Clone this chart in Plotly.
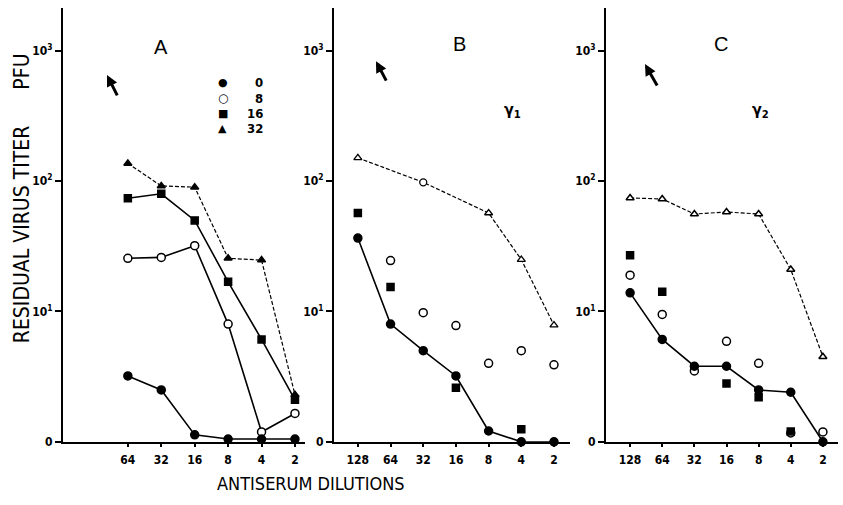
import math
import plotly.graph_objects as go

W, H = 843, 505

# ---------------- data ----------------
dil_A = [64, 32, 16, 8, 4, 2]
A_0 = [3.2, 2.5, 1.13, 1.05, 1.05, 1.05]
A_8 = [25.6, 26, 32, 8, 1.19, 1.65]
A_16 = [74, 80, 50, 16.9, 6.1, 2.1]
A_32 = [137, 92, 90, 25.6, 24.8, 2.3]

dil_BC = [128, 64, 32, 16, 8, 4, 2]
B_0 = [36.6, 8.0, 5.0, 3.2, 1.21, 1.0, 1.0]
B_8 = [None, 24.6, 9.8, 7.8, 4.0, 5.0, 3.9]
B_16 = [57, 15.4, None, 2.6, None, 1.25, None]
B_32 = [151, None, 98, None, 57, 25, 7.85]

C_0 = [13.9, 6.1, 3.8, 3.8, 2.5, 2.4, 1.0]
C_8 = [19, 9.5, 3.5, 5.9, 4.0, 1.17, 1.19]
C_16 = [27, 14.2, None, 2.8, 2.2, 1.2, None]
C_32 = [74.4, 73, 56, 58, 56, 21, 4.5]

legend_labels = ["0", "8", "16", "32"]
legend_glyphs = ["●", "○", "■", "▲"]
y_tickvals = [1, 10, 100, 1000]
y_ticktext = ["0", "10<sup>1</sup>", "10<sup>2</sup>", "10<sup>3</sup>"]

# ---------------- style ----------------
COND = "DejaVu Sans Condensed, Liberation Sans Narrow, sans-serif"
SANS = "Liberation Sans, Arial, sans-serif"
TICKFONT = dict(family=COND, size=12, color="black", weight="bold")


def px_x(p):
    return p / W


def px_y(p):
    return 1 - p / H


fig = go.Figure()


def line_trace(x, y, xa, ya, symbol, dash="solid", fill=True, size=8, lw=1.6):
    return go.Scatter(
        x=x, y=y, xaxis=xa, yaxis=ya, mode="lines+markers",
        connectgaps=True, cliponaxis=False, showlegend=False,
        line=dict(color="black", width=lw, dash=dash),
        marker=dict(symbol=symbol, size=size, color="black" if fill else "white",
                    line=dict(color="black", width=1.5)),
    )


def pt_trace(x, y, xa, ya, symbol, fill=True, size=8):
    return go.Scatter(
        x=x, y=y, xaxis=xa, yaxis=ya, mode="markers", cliponaxis=False,
        showlegend=False,
        marker=dict(symbol=symbol, size=size, color="black" if fill else "white",
                    line=dict(color="black", width=1.5)),
    )


DASH = "4px,2px"

# Panel A
fig.add_trace(line_trace(dil_A, A_32, "x", "y", "triangle-up", dash=DASH, size=7, lw=1.2))
fig.add_trace(line_trace(dil_A, A_16, "x", "y", "square", size=7))
fig.add_trace(line_trace(dil_A, A_8, "x", "y", "circle", fill=False, size=8))
fig.add_trace(line_trace(dil_A, A_0, "x", "y", "circle", size=8))

# Panel B
fig.add_trace(go.Scatter(
    x=dil_BC, y=B_32, xaxis="x2", yaxis="y2", mode="lines+markers", connectgaps=True,
    cliponaxis=False, showlegend=False,
    line=dict(color="black", width=1.2, dash=DASH),
    marker=dict(symbol=["triangle-up", "circle", "circle", "circle", "triangle-up", "triangle-up", "triangle-up"],
                size=7, color="white", line=dict(color="black", width=1.3)),
))
fig.add_trace(pt_trace(dil_BC, B_8, "x2", "y2", "circle", fill=False))
fig.add_trace(pt_trace(dil_BC, B_16, "x2", "y2", "square", size=7))
fig.add_trace(line_trace(dil_BC, B_0, "x2", "y2", "circle"))

# Panel C
fig.add_trace(line_trace(dil_BC, C_32, "x3", "y3", "triangle-up", dash=DASH, fill=False, size=7, lw=1.2))
fig.add_trace(pt_trace(dil_BC, C_8, "x3", "y3", "circle", fill=False))
fig.add_trace(pt_trace(dil_BC, C_16, "x3", "y3", "square", size=7))
fig.add_trace(line_trace(dil_BC, C_0, "x3", "y3", "circle"))

L2 = math.log10(2)


def xaxis(dom, lo, hi, vals, anchor):
    return dict(
        domain=[px_x(dom[0]), px_x(dom[1])], type="log",
        range=[lo * L2, hi * L2],
        tickvals=vals, ticktext=[str(v) for v in vals],
        showline=True, linecolor="black", linewidth=2,
        ticks="outside", ticklen=3, tickcolor="black", tickwidth=1.5,
        ticklabelstandoff=3,
        tickfont=TICKFONT, showgrid=False, zeroline=False, anchor=anchor,
    )


def yaxis(anchor):
    return dict(
        domain=[px_y(448), px_y(8)], type="log", range=[0, 3.33],
        tickvals=y_tickvals, ticktext=y_ticktext,
        showline=True, linecolor="black", linewidth=2,
        ticks="outside", ticklen=6, tickcolor="black", tickwidth=1.5,
        tickfont=TICKFONT, showgrid=False, zeroline=False, anchor=anchor,
    )


annotations = [
    dict(text="A", x=px_x(161), y=px_y(48), font=dict(family=SANS, size=20, color="black")),
    dict(text="B", x=px_x(459), y=px_y(45), font=dict(family=SANS, size=20, color="black")),
    dict(text="C", x=px_x(721), y=px_y(45), font=dict(family=SANS, size=20, color="black")),
    dict(text="γ<sub>1</sub>", x=px_x(512), y=px_y(112), font=dict(family=COND, size=16, color="black", weight="bold")),
    dict(text="γ<sub>2</sub>", x=px_x(760), y=px_y(112), font=dict(family=COND, size=16, color="black", weight="bold")),
    dict(text="RESIDUAL VIRUS TITER&nbsp;&nbsp;&nbsp;&nbsp;&nbsp;&nbsp;PFU", x=px_x(22), y=px_y(201), textangle=-90,
         font=dict(family=COND, size=21, color="black")),
    dict(text="ANTISERUM DILUTIONS", x=px_x(311), y=px_y(490),
         font=dict(family=COND, size=18, color="black")),
]
for a in annotations:
    a.update(xref="paper", yref="paper", showarrow=False, xanchor="center", yanchor="middle")

# legend of panel A (symbol + label)
for i, (g, lab) in enumerate(zip(legend_glyphs, legend_labels)):
    yy = px_y(84 + i * 15.5)
    annotations.append(dict(text=g, x=px_x(223), y=yy, xref="paper", yref="paper", showarrow=False,
                            xanchor="center", yanchor="middle",
                            font=dict(family="DejaVu Sans", size=11 if g != "○" else 12, color="black")))
    annotations.append(dict(text=lab, x=px_x(265), y=yy, xref="paper", yref="paper", showarrow=False,
                            xanchor="right", yanchor="middle",
                            font=dict(family=COND, size=13, color="black", weight="bold")))

# arrows (head position, tail position in px)
for hx, hy, tx, ty in [(107, 76, 118, 98), (376, 62, 387, 83), (645, 65, 658, 88)]:
    annotations.append(dict(
        x=px_x(hx), y=px_y(hy), xref="paper", yref="paper", text="",
        showarrow=True, ax=tx - hx, ay=ty - hy, axref="pixel", ayref="pixel",
        arrowhead=2, arrowsize=0.75, arrowwidth=3, arrowcolor="black",
    ))

fig.update_layout(
    width=W, height=H, margin=dict(l=0, r=0, t=0, b=0),
    paper_bgcolor="white", plot_bgcolor="white",
    xaxis=xaxis((63, 305), 7.94, 0.70, dil_A, "y"),
    xaxis2=xaxis((334, 570), 7.73, 0.51, dil_BC, "y2"),
    xaxis3=xaxis((606, 838), 7.75, 0.53, dil_BC, "y3"),
    yaxis=yaxis("x"), yaxis2=yaxis("x2"), yaxis3=yaxis("x3"),
    annotations=annotations,
    showlegend=False,
)

fig.write_html("out.html")
